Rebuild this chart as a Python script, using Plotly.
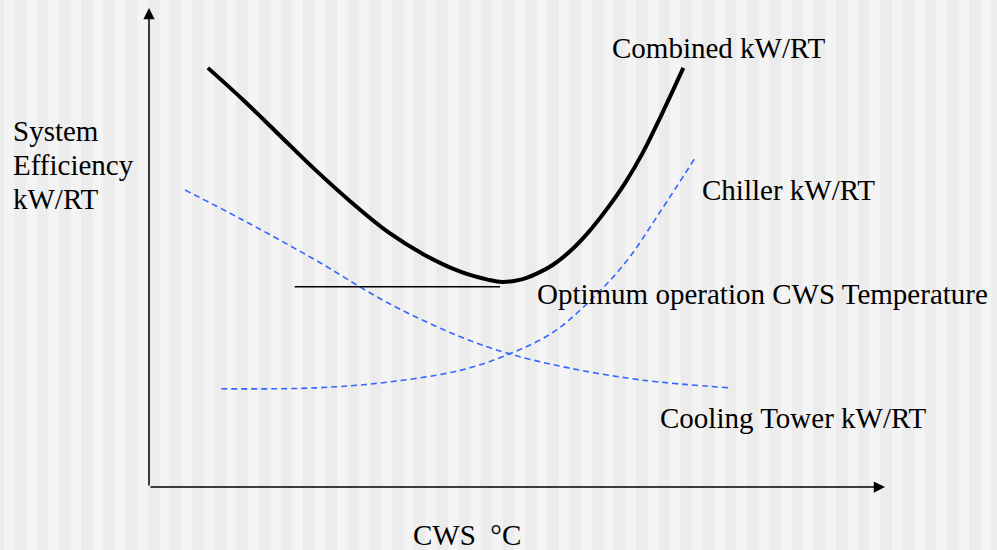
import plotly.graph_objects as go

# CWS temperature (relative units) and efficiency (relative units)
combined_x = [8.0, 12.8, 17.7, 22.6, 27.6, 32.5, 37.5, 42.4, 46.0, 48.0, 50.5, 52.3, 54.8, 57.2, 59.6, 62.1, 64.7, 67.1, 69.6, 72.6]
combined_y = [87.5, 80.8, 73.5, 66.2, 59.3, 53.2, 48.4, 44.9, 43.3, 42.8, 43.3, 44.3, 46.3, 49.2, 53.0, 57.8, 63.5, 69.8, 77.6, 87.5]

chiller_x = [9.8, 22.6, 32.5, 42.4, 49.0, 54.8, 59.6, 64.7, 69.6, 74.2]
chiller_y = [20.5, 20.7, 21.9, 24.4, 27.8, 32.2, 38.4, 46.8, 57.8, 68.7]

tower_x = [4.9, 12.8, 22.6, 32.5, 42.4, 49.0, 57.2, 67.1, 78.9]
tower_y = [62.0, 55.7, 47.4, 38.4, 31.3, 27.8, 24.8, 22.3, 20.7]

optimum_x = [19.8, 47.7]
optimum_y = [41.8, 41.8]

font = dict(family="Liberation Serif, Times New Roman, serif", size=29, color="black")
blue = "#3366FF"

fig = go.Figure()
fig.add_trace(go.Scatter(x=tower_x, y=tower_y, mode="lines", line=dict(color=blue, width=1.6, dash="6px,4px", shape="spline")))
fig.add_trace(go.Scatter(x=chiller_x, y=chiller_y, mode="lines", line=dict(color=blue, width=1.6, dash="6px,4px", shape="spline")))
fig.add_trace(go.Scatter(x=optimum_x, y=optimum_y, mode="lines", line=dict(color="black", width=1.5)))
fig.add_trace(go.Scatter(x=combined_x, y=combined_y, mode="lines", line=dict(color="black", width=4, shape="spline")))

# striped background
shapes = []
p = 4.0
while p < 997:
    shapes.append(dict(type="rect", xref="paper", yref="paper",
                       x0=(p - 149) / 736, x1=(p + 10.5 - 149) / 736, y0=-0.2, y1=1.1,
                       fillcolor="#f4f4f4", line_width=0, layer="below"))
    p += 22.2

annotations = [
    # axes with arrow heads
    dict(x=100, y=0, ax=0, ay=0, xref="x", yref="y", axref="x", ayref="y", text="",
         showarrow=True, arrowhead=2, arrowsize=1.5, arrowwidth=1.5, arrowcolor="black", standoff=0),
    dict(x=0, y=100, ax=0, ay=0, xref="x", yref="y", axref="x", ayref="y", text="",
         showarrow=True, arrowhead=2, arrowsize=1.5, arrowwidth=1.5, arrowcolor="black", standoff=0),
    dict(x=62.7, y=91.6, text="Combined kW/RT", xanchor="left", yanchor="middle", showarrow=False, font=font),
    dict(x=74.9, y=62.0, text="Chiller kW/RT", xanchor="left", yanchor="middle", showarrow=False, font=font),
    dict(x=52.4, y=40.3, text="Optimum operation CWS Temperature", xanchor="left", yanchor="middle", showarrow=False, font=font),
    dict(x=69.2, y=14.4, text="Cooling Tower kW/RT", xanchor="left", yanchor="middle", showarrow=False, font=font),
    dict(x=-0.188, y=0.744, xref="paper", yref="paper", text="System", xanchor="left", yanchor="middle", showarrow=False, font=font),
    dict(x=-0.188, y=0.672, xref="paper", yref="paper", text="Efficiency", xanchor="left", yanchor="middle", showarrow=False, font=font),
    dict(x=-0.188, y=0.601, xref="paper", yref="paper", text="kW/RT", xanchor="left", yanchor="middle", showarrow=False, font=font),
    dict(x=0.356, y=-0.10, xref="paper", yref="paper", text="CWS\u00a0\u00a0°C", xanchor="left", yanchor="middle", showarrow=False, font=font),
]

fig.update_xaxes(range=[0, 100], visible=False)
fig.update_yaxes(range=[0, 100], visible=False)

fig.update_layout(
    width=997,
    height=550,
    margin=dict(l=149, r=112, t=8, b=63),
    paper_bgcolor="#ececec",
    plot_bgcolor="rgba(0,0,0,0)",
    showlegend=False,
    shapes=shapes,
    annotations=annotations,
)

fig.write_html("out.html", config={"displayModeBar": False},
               post_script="document.body.style.margin='0';document.body.style.overflow='hidden';")
